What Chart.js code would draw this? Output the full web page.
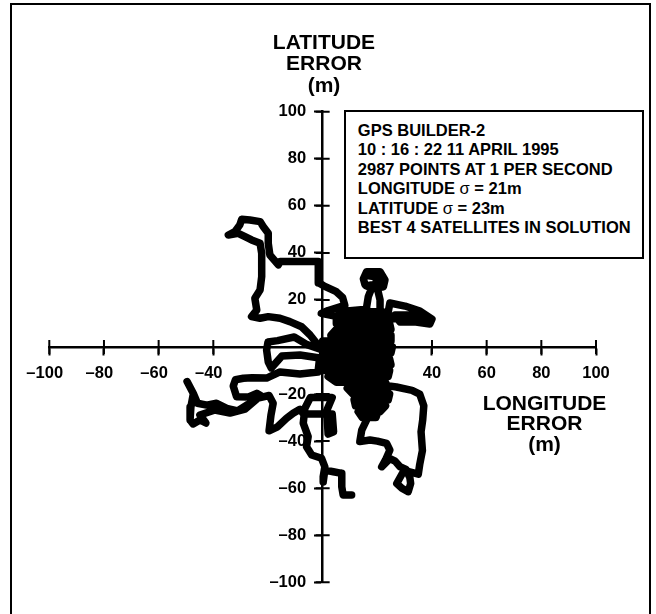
<!DOCTYPE html>
<html>
<head>
<meta charset="utf-8">
<script src="https://cdn.jsdelivr.net/npm/chart.js@4.4.1/dist/chart.umd.min.js"></script>
<style>
  body { margin: 0; background: #fff; }
  #wrap { position: relative; width: 656px; height: 614px; overflow: hidden;
          font-family: 'Liberation Sans', Arial, sans-serif; font-weight: bold; color: #000; }
  #frame { position: absolute; left: 10px; top: 3px; width: 641px; height: 660px;
           box-sizing: border-box; border: 2.5px solid #000; }
  #plot { position: absolute; left: 0; top: 0; }
  .axis-title { position: absolute; width: 200px; text-align: center; font-size: 21px; }
  #latTitle { left: 224px; top: 30.6px; line-height: 21.5px; }
  #lonTitle { left: 444.5px; top: 392.8px; line-height: 20.5px; }
  #info { position: absolute; left: 343.5px; top: 110px; width: 300.5px; height: 149px;
          box-sizing: border-box; border: 2.5px solid #000; background: #fff;
          padding: 9px 0 0 12.3px; font-size: 16.5px; line-height: 19.4px; white-space: nowrap; }
  #info .sym { font-weight: normal; }
</style>
</head>
<body>
<div id="wrap">
  <div id="frame"></div>
  <canvas id="plot" width="656" height="614"></canvas>
  <div class="axis-title" id="latTitle">LATITUDE<br>ERROR<br>(m)</div>
  <div class="axis-title" id="lonTitle">LONGITUDE<br>ERROR<br>(m)</div>
  <div id="info">
    GPS BUILDER-2<br>
    10 : 16 : 22 11 APRIL 1995<br>
    2987 POINTS AT 1 PER SECOND<br>
    LONGITUDE <span class="sym">σ</span> = 21m<br>
    LATITUDE <span class="sym">σ</span> = 23m<br>
    BEST 4 SATELLITES IN SOLUTION
  </div>
</div>
<script>
// Position error track, [longitude error (m), latitude error (m)], in the order it was logged.
const southEastLoop = [
  [14.2,-20],[14.5,-28],[16.1,-31],[14.3,-35.3],[13.6,-40.2],[17.3,-39.5],[20,-40],[23.4,-41],
  [24.6,-43.8],[23,-48],[21.6,-50.9],[24.6,-47.4],[26.5,-48.5],[28.3,-50.9],[30.5,-52],[31.9,-55.5],
  [32.2,-58],[31.3,-61.5],[29,-60],[27.1,-58],[29.5,-53],[31.5,-53],[35,-54],[35.5,-50],[36.5,-44],
  [36,-36],[36.6,-31],[37,-25],[35.5,-20],[32.7,-18.4],[27,-17],[23.5,-16.4]
];
const core = [
  [19.5,-30],[14.5,-30],[13,-27.5],[21,-27.5],[23,-25],[12,-25],[11.5,-22.5],[24,-22.5],[24.5,-20],
  [11,-20],[9,-17.5],[24,-17.5],[23,-15],[5,-15],[2,-12.5],[24,-12.5],[24.5,-10],[1,-10],[0.5,-7.5],
  [25,-7.5],[24.5,-5],[0,-5],[0,-2.5],[25,-2.5],[25.5,0],[0,0],[0,2.5],[25,2.5],[25,5],[3,5],[5,7.5],
  [25,7.5],[24.5,10],[5,10],[5,12.5],[24,12.5],[22,15],[6,15],[16,16]
];
const northSpur = [
  [16.1,17.1],[16.7,21.4],[17.9,24.9],[15.5,26.4],[14.9,29],[16.1,32],[21,32],[22.8,28.5],
  [22.2,25.6],[19.1,24.9],[16,26],[21.5,27],[21.5,29.5],[15.5,30.5],[20,31],[19.5,27.5],
  [21,20],[21,14.3],[24,15]
];
const eastArm = [
  [24.6,18.7],[30.1,17.4],[35.6,15.3],[40,11.9],[39.2,9.8],[34.1,10.6],[28.3,10.6],[26.4,13.6],
  [31.9,13.6],[37.4,12.3],[30,12.2],[24,12]
];
const northWestLoop = [
  [12,14],[5,13],[-0.5,14.3],[2,15.5],[8.1,17.7],[7.3,21],[5,23.5],[0.4,26],[-1.35,27.2],[-1.6,32.7],
  [-1.6,36.3],[-8.3,36.3],[-15.6,36.3],[-16.2,34.9],[-19.3,39.1],[-19.9,44.1],[-19.9,48.3],[-21.7,51.1],
  [-22.9,53.3],[-26.6,54],[-29.6,54.3],[-30.3,51.9],[-32.1,49],[-34.5,47.6],[-30.9,48.3],[-28.4,46.9],
  [-26,45.5],[-22.9,44.1],[-22.3,39.8],[-22.3,29.9],[-22.9,24.2],[-24.8,20.7],[-24.1,15.7],[-26,12.9],
  [-22.9,12.2],[-19.9,12.9],[-15.6,12.2],[-12,10.8],[-7.7,8.6],[-4.6,5.1],[-2.2,1.6],[0,0]
];
const westTail = [
  [-1.1,-0.85],[-5.7,1],[-10.4,4.25],[-16.5,2.7],[-20,2.1],[-20.5,-1.3],[-19.9,-6.4],[-18.8,-8.9],
  [-14.9,-3.8],[-8.3,-3.4],[-1.1,-4.7],[-1.7,-10.6],[-8.3,-11.5],[-15.6,-10.6],[-20.5,-13.2],
  [-25.8,-13.1],[-29,-13.3],[-31.9,-13.9],[-32.7,-16.6],[-31.5,-21.1],[-27.3,-21.3],[-24.1,-19.7],
  [-22.7,-20.6],[-25.8,-23.8],[-27.8,-24.7],[-31.1,-27.2],[-35.1,-26.1],[-38.8,-23.9],[-42.4,-24.7],
  [-45.8,-23.9],[-47.3,-19.8],[-49.6,-14.7],[-47.3,-19.8],[-48.2,-25.5],[-48.5,-31],[-47.4,-32.7],
  [-44.9,-31],[-42.7,-32.3],[-44.9,-28.9],[-39.4,-26.8],[-33.9,-28.1],[-28.4,-26.4],[-23.7,-21.7],
  [-19.6,-20.6],[-18.1,-23.9],[-18.9,-28.9],[-19.6,-35.6],[-16.5,-33.9],[-13.2,-30.3],[-10.8,-28.2],
  [-8.3,-26.5]
];
const southStem = [
  [-7,-28.5],[3.5,-28.5],[4,-36],[2,-37],[1.5,-27],[3.5,-21.5],[-4.5,-21.5],[-6.5,-26],[-7.1,-32.4],
  [-5.3,-38.1],[-5.9,-42.4],[-4,-45.9],[-0.4,-47.3],[0.8,-50.9],[0.2,-55.1],[0.2,-57.4],[0.8,-52.3],
  [3.9,-53],[7,-53.7],[7,-59.4],[7.5,-62.9],[10.6,-62.9]
];

// Axis ticks (metres); some labels along the longitude axis sit under the track and are left blank
const axisTicks = [-100, -80, -60, -40, -20, 0, 20, 40, 60, 80, 100];
const hiddenLonLabels = [-20, 0, 20];
const hiddenLatLabels = [0];

const track = [southEastLoop, core, northSpur, eastArm, northWestLoop, westTail, southStem]
  .flat().map(([lon, lat]) => ({ x: lon, y: lat }));

const TICK_HALF = 7;
const tickFont = { family: "'Liberation Sans', Arial, sans-serif", size: 16.5, weight: 'bold' };

function dashLabel(v) {
  return v < 0 ? '\u2013' + (-v) : String(v);
}

// Tick marks that cross the axis lines on both sides
const crossTicks = {
  id: 'crossTicks',
  beforeDatasetsDraw(chart) {
    const { ctx, scales: { x, y } } = chart;
    const x0 = x.getPixelForValue(0);
    const y0 = y.getPixelForValue(0);
    ctx.save();
    ctx.strokeStyle = '#000';
    ctx.lineWidth = 2;
    ctx.beginPath();
    axisTicks.forEach(v => {
      if (v === 0) return;
      const px = x.getPixelForValue(v);
      ctx.moveTo(px, y0 - TICK_HALF);
      ctx.lineTo(px, y0 + TICK_HALF);
      const py = y.getPixelForValue(v);
      ctx.moveTo(x0 - TICK_HALF, py);
      ctx.lineTo(x0 + TICK_HALF, py);
    });
    ctx.stroke();
    ctx.restore();
  }
};

new Chart(document.getElementById('plot'), {
  type: 'scatter',
  data: {
    datasets: [{
      data: track,
      showLine: true,
      borderColor: '#000',
      backgroundColor: '#000',
      borderWidth: 7.5,
      borderJoinStyle: 'round',
      borderCapStyle: 'round',
      pointRadius: 0,
      pointHoverRadius: 0,
      tension: 0,
      fill: false
    }]
  },
  options: {
    responsive: false,
    devicePixelRatio: 1,
    animation: false,
    events: [],
    layout: { padding: { left: 49.3, right: 60, top: 111.7, bottom: 31.7 } },
    plugins: { legend: { display: false }, tooltip: { enabled: false } },
    scales: {
      x: {
        type: 'linear', min: -100, max: 100,
        position: { y: 0 },
        afterBuildTicks: s => { s.ticks = axisTicks.map(v => ({ value: v })); },
        grid: { display: true, drawOnChartArea: false, drawTicks: true, tickLength: TICK_HALF, tickWidth: 2, tickColor: '#000' },
        border: { display: true, color: '#000', width: 2.5 },
        ticks: {
          autoSkip: false, maxRotation: 0, padding: 10, color: '#000', font: tickFont,
          callback: v => hiddenLonLabels.includes(v) ? '' : dashLabel(v) + (v < 0 ? '\u2007' : '')
        }
      },
      y: {
        type: 'linear', min: -100, max: 100,
        position: { x: 0 },
        afterBuildTicks: s => { s.ticks = axisTicks.map(v => ({ value: v })); },
        grid: { display: true, drawOnChartArea: false, drawTicks: true, tickLength: TICK_HALF, tickWidth: 2, tickColor: '#000' },
        border: { display: true, color: '#000', width: 2.5 },
        ticks: {
          autoSkip: false, padding: 9, color: '#000', font: tickFont,
          // the em space keeps the label clear of the crossing tick marks
          callback: v => hiddenLatLabels.includes(v) ? '' : dashLabel(v) + '\u2003'
        }
      }
    }
  },
  plugins: [crossTicks]
});
</script>
</body>
</html>
